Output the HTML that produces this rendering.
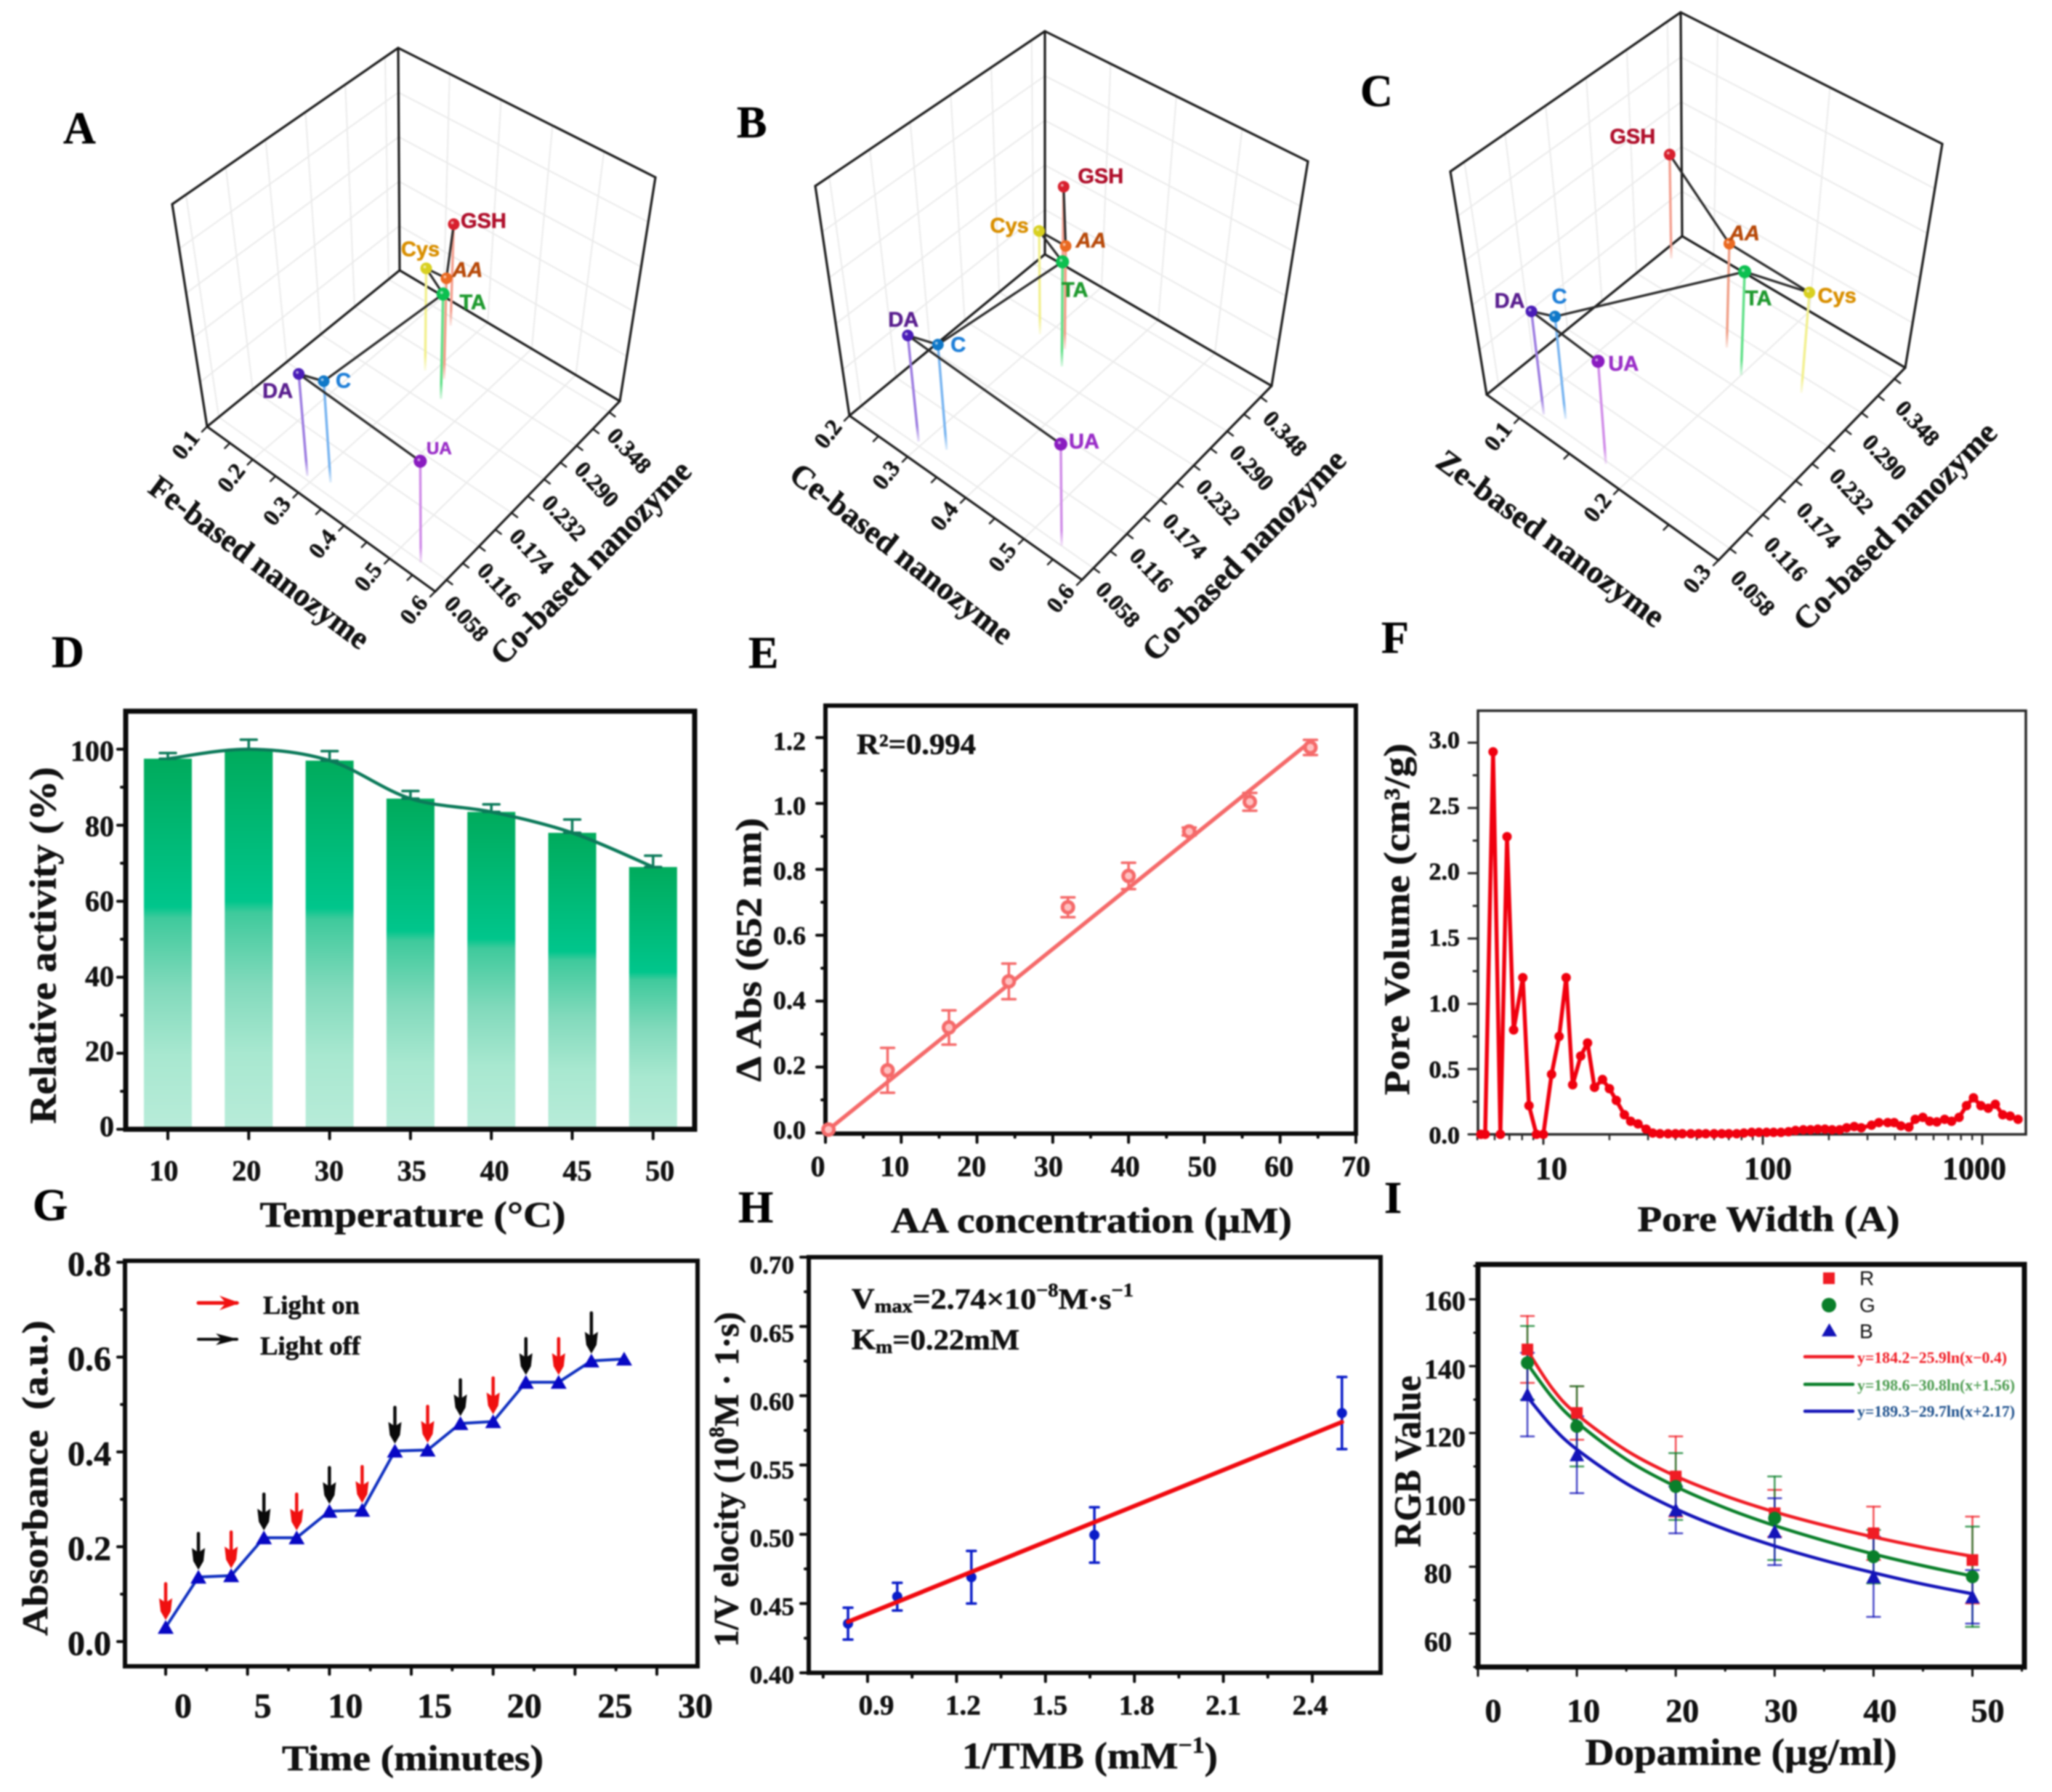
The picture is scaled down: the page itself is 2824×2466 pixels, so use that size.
<!DOCTYPE html>
<html lang="en">
<head>
<meta charset="utf-8">
<title>Nanozyme sensor array figure</title>
<style>
html,body{margin:0;padding:0;background:#fff;width:2824px;height:2466px;overflow:hidden}
svg{display:block;filter:blur(1px)}
text{font-family:"Liberation Serif","DejaVu Serif",serif;font-weight:bold;fill:#111;stroke:#111;stroke-width:.6px;dominant-baseline:central}
text.letter{dominant-baseline:alphabetic;font-size:62px;fill:#000}
text.sans{font-family:"Liberation Sans","DejaVu Sans",sans-serif}
</style>
</head>
<body>
<svg id="figure" xmlns="http://www.w3.org/2000/svg" width="2824" height="2466" viewBox="0 0 2824 2466">
<rect width="2824" height="2466" fill="#fff"/>
<defs id="defs">
<linearGradient id="barFill" x1="0" y1="0" x2="0" y2="1">
<stop offset="0" stop-color="#00ab5c"/><stop offset="0.4" stop-color="#00c68c"/><stop offset="0.43" stop-color="#3fca9c"/><stop offset="0.62" stop-color="#82dabc"/><stop offset="0.8" stop-color="#a8e8d0"/><stop offset="1" stop-color="#b8ecd9"/>
</linearGradient>
</defs>

<text class="letter" x="87" y="197">A</text>
<text class="letter" x="1014" y="189">B</text>
<text class="letter" x="1872" y="146">C</text>
<text class="letter" x="71" y="918">D</text>
<text class="letter" x="1030" y="919">E</text>
<text class="letter" x="1901" y="898">F</text>
<text class="letter" x="45" y="1679">G</text>
<text class="letter" x="1016" y="1682">H</text>
<text class="letter" x="1905" y="1669">I</text>

<text x="357" y="774" font-size="44" text-anchor="middle" textLength="366" lengthAdjust="spacingAndGlyphs" transform="rotate(36.8 357 774)">Fe-based nanozyme</text>
<text x="813" y="774" font-size="44" text-anchor="middle" textLength="373" lengthAdjust="spacingAndGlyphs" transform="rotate(-45.6 813 774)">Co-based nanozyme</text>
<text x="1241" y="762" font-size="44" text-anchor="middle" textLength="376" lengthAdjust="spacingAndGlyphs" transform="rotate(37.9 1241 762)">Ce-based nanozyme</text>
<text x="1712" y="764" font-size="44" text-anchor="middle" textLength="383" lengthAdjust="spacingAndGlyphs" transform="rotate(-46.3 1712 764)">Co-based nanozyme</text>
<text x="2134" y="741" font-size="44" text-anchor="middle" textLength="378" lengthAdjust="spacingAndGlyphs" transform="rotate(36.5 2134 741)">Ze-based nanozyme</text>
<text x="2608" y="724" font-size="44" text-anchor="middle" textLength="380" lengthAdjust="spacingAndGlyphs" transform="rotate(-45.8 2608 724)">Co-based nanozyme</text>

<text x="568" y="1671" font-size="50" text-anchor="middle" textLength="421" lengthAdjust="spacingAndGlyphs">Temperature (°C)</text>
<text x="60" y="1301" font-size="52" text-anchor="middle" textLength="491" lengthAdjust="spacingAndGlyphs" transform="rotate(-90 60 1301)">Relative activity (%)</text>
<text x="1502" y="1679" font-size="50" text-anchor="middle" textLength="552" lengthAdjust="spacingAndGlyphs">AA concentration (µM)</text>
<text x="1030" y="1307" font-size="50" text-anchor="middle" textLength="363" lengthAdjust="spacingAndGlyphs" transform="rotate(-90 1030 1307)">Δ Abs (652 nm)</text>
<text x="1179" y="1024" font-size="40" textLength="164" lengthAdjust="spacingAndGlyphs">R²=0.994</text>
<text x="2434" y="1677" font-size="50" text-anchor="middle" textLength="361" lengthAdjust="spacingAndGlyphs">Pore Width (A)</text>
<text x="1922" y="1265" font-size="50" text-anchor="middle" textLength="484" lengthAdjust="spacingAndGlyphs" transform="rotate(-90 1922 1265)">Pore Volume (cm³/g)</text>
<text x="568" y="2419" font-size="50" text-anchor="middle" textLength="360" lengthAdjust="spacingAndGlyphs">Time (minutes)</text>
<text x="48" y="2034" font-size="50" text-anchor="middle" textLength="434" lengthAdjust="spacingAndGlyphs" transform="rotate(-90 48 2034)">Absorbance&#160; (a.u.)</text>
<text x="362" y="1796" font-size="36" textLength="133" lengthAdjust="spacingAndGlyphs">Light on</text>
<text x="358" y="1852" font-size="36" textLength="138" lengthAdjust="spacingAndGlyphs">Light off</text>
<text x="1500" y="2417" font-size="52" text-anchor="middle" textLength="352" lengthAdjust="spacingAndGlyphs">1/TMB (mM<tspan dy="-16" font-size="32">−1</tspan><tspan dy="16">)</tspan></text>
<text x="1000" y="2036" font-size="48" text-anchor="middle" textLength="461" lengthAdjust="spacingAndGlyphs" transform="rotate(-90 1000 2036)">1/V elocity (10<tspan dy="-14" font-size="30">8</tspan><tspan dy="14">M · 1·s)</tspan></text>
<text x="1172" y="1787" font-size="40" textLength="388" lengthAdjust="spacingAndGlyphs">V<tspan dy="10" font-size="26">max</tspan><tspan dy="-10">=2.74×10</tspan><tspan dy="-12" font-size="26">−8</tspan><tspan dy="12">M·s</tspan><tspan dy="-12" font-size="26">−1</tspan></text>
<text x="1172" y="1843" font-size="40" textLength="231" lengthAdjust="spacingAndGlyphs">K<tspan dy="10" font-size="26">m</tspan><tspan dy="-10">=0.22mM</tspan></text>
<text x="2396" y="2412" font-size="52" text-anchor="middle" textLength="429" lengthAdjust="spacingAndGlyphs">Dopamine (µg/ml)</text>
<text x="1938" y="2011" font-size="52" text-anchor="middle" textLength="236" lengthAdjust="spacingAndGlyphs" transform="rotate(-90 1938 2011)">RGB Value</text>
<text class="sans" x="2559" y="1759" font-size="28" style="font-weight:normal;stroke:none">R</text>
<text class="sans" x="2559" y="1796" font-size="28" style="font-weight:normal;stroke:none">G</text>
<text class="sans" x="2559" y="1832" font-size="28" style="font-weight:normal;stroke:none">B</text>
<text x="2556" y="1868" font-size="22" textLength="206" lengthAdjust="spacingAndGlyphs" style="fill:#f01c24;stroke:none">y=184.2−25.9ln(x−0.4)</text>
<text x="2556" y="1906" font-size="22" textLength="217" lengthAdjust="spacingAndGlyphs" style="fill:#4c9c50;stroke:none">y=198.6−30.8ln(x+1.56)</text>
<text x="2556" y="1942" font-size="22" textLength="217" lengthAdjust="spacingAndGlyphs" style="fill:#1c4f8c;stroke:none">y=189.3−29.7ln(x+2.17)</text>
<g id="marks"></g>
</svg>

<script>
/* ---------- 3D scatter data (panels A, B, C) ---------- */
const compounds = ['GSH','Cys','AA','TA','DA','C','UA'];
const feValues = [0.2545,0.288,0.3255,0.350,0.2885,0.326,0.545];
const coValuesA = [0.3374,0.2676,0.2713,0.2469,0.0628,0.0735,0.0569];
const heightA = [0.456,0.459,0.453,0.471,0.459,0.456,0.456];
const ceValues = [0.266,0.292,0.335,0.352,0.294,0.330,0.545];
const coValuesB = [0.3334,0.2703,0.2706,0.2492,0.0627,0.0748,0.0582];
const heightB = [0.475,0.459,0.459,0.465,0.465,0.462,0.450];
const zeValues = [0.077,0.249,0.173,0.200,0.111,0.126,0.177];
const coValuesC = [0.3325,0.2709,0.2693,0.2489,0.0607,0.0725,0.0548];
const heightC = [0.465,0.449,0.465,0.462,0.462,0.459,0.459];
const coTicks = [0.058,0.116,0.174,0.232,0.290,0.348];
const feTicks = [0.1,0.2,0.3,0.4,0.5,0.6];
const ceTicks = [0.2,0.3,0.4,0.5,0.6];
const zeTicks = [0.1,0.2,0.3];

/* ---------- Panel D ---------- */
const tempLabels = ['10','20','30','35','40','45','50'];
const activity = [97.5,100,97,87,83.5,78,69];
const activityErr = [1.5,2.5,2.5,2,2,3.5,3];
const activityTicks = [0,20,40,60,80,100];

/* ---------- Panel E ---------- */
const aaConc = [0.4,8.2,16.3,24.2,32,40,48,56,64];
const aaAbs = [0.01,0.19,0.32,0.46,0.685,0.78,0.915,1.005,1.17];
const aaErr = [0.01,0.068,0.052,0.054,0.03,0.04,0.012,0.027,0.023];
const aaFitX = [0.4,64];
const aaFitY = [0.01,1.188];
const aaYTicks = [0,0.2,0.4,0.6,0.8,1.0,1.2];
const aaXTicks = [0,10,20,30,40,50,60,70];

/* ---------- Panel F ---------- */
const poreWidth = [5.19,5.43,5.9,6.37,6.83,7.32,8.06,8.6,9.3,10,10.9,11.8,12.7,13.6,14.8,15.9,17.1,18.6,20,21.5,23.4,25,27,29.4,31.5,34,37,40,43,47,51,55,60,65,70,76,82,89,96,104,112,121,131,141,153,165,178,192,207,224,241,261,281,313,338,371,397,426,463,495,536,576,621,674,725,784,848,912,986,1065,1147,1240,1340,1456];
const poreVolume = [0,0,2.93,0,2.28,0.8,1.2,0.22,0,0,0.46,0.75,1.2,0.38,0.6,0.7,0.36,0.42,0.35,0.26,0.15,0.1,0.08,0.04,0.01,0.005,0.005,0.005,0.005,0.005,0.005,0.005,0.005,0.005,0.005,0.005,0.01,0.015,0.015,0.015,0.015,0.015,0.02,0.03,0.035,0.035,0.04,0.04,0.035,0.035,0.05,0.06,0.05,0.07,0.09,0.09,0.09,0.065,0.055,0.115,0.13,0.1,0.095,0.115,0.1,0.13,0.22,0.28,0.22,0.2,0.23,0.15,0.14,0.115];
const poreYTicks = [0,0.5,1.0,1.5,2.0,2.5,3.0];
const poreXTicks = [10,100,1000];

/* ---------- Panel G ---------- */
const gTime = [0,2,4,6,8,10,12,14,16,18,20,22,24,26,28];
const gAbsorbance = [0.03,0.136,0.139,0.219,0.219,0.275,0.277,0.402,0.404,0.46,0.464,0.547,0.547,0.592,0.596];
const gLightState = ['on','off','on','off','on','off','on','off','on','off','on','off','on','off'];
const gYTicks = [0,0.2,0.4,0.6,0.8];
const gXTicks = [0,5,10,15,20,25,30];

/* ---------- Panel H ---------- */
const tmbInverse = [0.834,1.0,1.25,1.665,2.5];
const vInverse = [0.4355,0.455,0.469,0.4995,0.5875];
const vErr = [0.0115,0.01,0.019,0.02,0.026];
const hFitX = [0.834,2.5];
const hFitY = [0.4368,0.581];
const hYTicks = [0.40,0.45,0.50,0.55,0.60,0.65,0.70];
const hXTicks = [0.9,1.2,1.5,1.8,2.1,2.4];

/* ---------- Panel I ---------- */
const dopamine = [5,10,20,30,40,50];
const rValues = [145,126,107,96,90,82];
const gValues = [141,122,104,94.5,83,77];
const bValues = [131.5,113.5,97,90.5,77,71];
const rErr = [10,8,12,7,8,13];
const gErr = [11,12,10,12.5,8,15];
const bErr = [12.5,11.5,7,10,12,8];
const curveX = [5,7.5,10,15,20,25,30,35,40,45,50];
const rCurve = [144.7,133.4,125.6,114.8,107.1,101.2,96.4,92.4,88.9,85.8,83.1];
const gCurve = [140.7,130.7,123.2,112.1,104,97.6,92.3,87.8,83.8,80.3,77.2];
const bCurve = [130.8,121.9,115.1,104.9,97.3,91.2,86.2,81.9,78.2,74.8,71.9];
const iYTicks = [60,80,100,120,140,160];
const iXTicks = [0,10,20,30,40,50];

/* ---------- helpers ---------- */
const NS = 'http://www.w3.org/2000/svg';
const marks = document.getElementById('marks');
const defs = document.getElementById('defs');
function make(tag, parent, name) {
  const e = document.createElementNS(NS, tag);
  
  
  parent.appendChild(e);
  return e;
}
function set(e, a) { for (const k in a) e.setAttribute(k, a[k]); return e; }
function group(name) { return make('g', marks, name); }
function line(p, name, x1, y1, x2, y2, stroke, w, opacity) {
  return set(make('line', p, name), {x1, y1, x2, y2, stroke, 'stroke-width': w, 'stroke-linecap': 'round', opacity: opacity === undefined ? 1 : opacity});
}
function label(p, name, str, x, y, size, anchor, extra) {
  const t = make('text', p, name);
  set(t, {x, y, 'font-size': size, 'text-anchor': anchor || 'middle'});
  if (extra) set(t, extra);
  t.textContent = str;
  return t;
}
function linear(d0, d1, r0, r1) { return v => r0 + (v - d0) * (r1 - r0) / (d1 - d0); }
function frame(p, name, x0, y0, x1, y1, w, color) {
  return set(make('rect', p, name), {x: x0, y: y0, width: x1 - x0, height: y1 - y0, fill: 'none', stroke: color || '#0a0a0a', 'stroke-width': w});
}
function smooth(pts) {
  let d = 'M' + pts[0][0] + ' ' + pts[0][1];
  for (let i = 0; i < pts.length - 1; i++) {
    const a = pts[Math.max(i - 1, 0)], b = pts[i], c = pts[i + 1], e = pts[Math.min(i + 2, pts.length - 1)];
    d += ' C' + (b[0] + (c[0] - a[0]) / 6) + ' ' + (b[1] + (c[1] - a[1]) / 6) + ' ' + (c[0] - (e[0] - b[0]) / 6) + ' ' + (c[1] - (e[1] - b[1]) / 6) + ' ' + c[0] + ' ' + c[1];
  }
  return d;
}
function errorBar(p, name, x, yTop, yBot, cap, color, w, opacity) {
  line(p, name, x, yTop, x, yBot, color, w, opacity);
  line(p, name + '-cap-top', x - cap, yTop, x + cap, yTop, color, w, opacity);
  line(p, name + '-cap-bottom', x - cap, yBot, x + cap, yBot, color, w, opacity);
}

/* ---------- 3D panels ---------- */
const pointColors = ['#d8202e','#d8d020','#ea6a22','#0cc050','#4a1cb8','#1078c8','#8a1cc0'];
const labelColors = ['#b0102c','#d98f00','#b84a0a','#1f9a2f','#5a1f8f','#1f7fd8','#9a2fc8'];
const stemColors = ['#f4a090','#f2f090','#f0a088','#60e088','#9c7ce0','#78b4f0','#d08ce8'];
const chainOrder = [0,2,1,3,5,4,6];

function scatter3d(cfg) {
  const g = group(cfg.id + '-3d-scatter');
  const bil = (c, u, v) => [0, 1].map(i => (1-u)*(1-v)*c.L[i] + u*(1-v)*c.F[i] + (1-u)*v*c.B[i] + u*v*c.R[i]);
  const P = (u, v, z) => { const a = bil(cfg.floor, u, v), b = bil(cfg.ceil, u, v); return [a[0] + (b[0]-a[0])*z, a[1] + (b[1]-a[1])*z]; };
  const U = linear(cfg.xRange[0], cfg.xRange[1], 0, 1);
  const V = linear(0.038, 0.367, 0, 1);
  const seg = (name, p, q, stroke, w) => line(g, name, p[0], p[1], q[0], q[1], stroke, w);
  const GRID = '#ebebeb';
  [0.2,0.4,0.6,0.8].forEach(z => {
    seg('grid-left-wall', P(0,0,z), P(0,1,z), GRID, 2);
    seg('grid-right-wall', P(0,1,z), P(1,1,z), GRID, 2);
  });
  coTicks.forEach(c => {
    seg('grid-left-wall-vertical', P(0,V(c),0), P(0,V(c),1), GRID, 2);
    seg('grid-floor-co', P(0,V(c),0), P(1,V(c),0), GRID, 2);
  });
  cfg.xTicks.forEach(t => {
    seg('grid-right-wall-vertical', P(U(t),1,0), P(U(t),1,1), GRID, 2);
    seg('grid-floor-x', P(U(t),0,0), P(U(t),1,0), GRID, 2);
  });
  const EDGE = '#1c1c1c';
  seg('box-edge', P(0,1,0), P(0,1,1), EDGE, 3.2);
  seg('box-edge', P(0,1,1), P(0,0,1), EDGE, 3.2);
  seg('box-edge', P(0,0,1), P(0,0,0), EDGE, 3.2);
  seg('box-edge', P(0,1,1), P(1,1,1), EDGE, 3.2);
  seg('box-edge', P(1,1,1), P(1,1,0), EDGE, 3.2);
  seg('box-edge', P(0,0,0), P(0,1,0), EDGE, 3.2);
  seg('box-edge', P(0,1,0), P(1,1,0), EDGE, 3.2);
  seg('box-edge', P(0,0,0), P(1,0,0), EDGE, 3.2);
  seg('box-edge', P(1,0,0), P(1,1,0), EDGE, 3.2);
  const xStep = 0.05;
  for (let t = Math.ceil(cfg.xRange[0] / xStep) * xStep; t <= cfg.xRange[1] + 1e-6; t += xStep) {
    const a = P(U(t),0,0);
    line(g, 'x-tick', a[0], a[1], a[0] - 7, a[1] + 7, EDGE, 2.5);
  }
  for (let i = 0; i < 11; i++) {
    const c = 0.058 + i * 0.029, a = P(1,V(c),0);
    line(g, 'co-tick', a[0], a[1], a[0] + 8, a[1] + 6, EDGE, 2.5);
  }
  cfg.xTicks.forEach(t => {
    const a = P(U(t),0,0), x = a[0] + cfg.xOff[0], y = a[1] + cfg.xOff[1];
    label(g, 'x-tick-label', t.toFixed(1), x, y, 32, 'middle', {transform: 'rotate(-52 ' + x + ' ' + y + ')'});
  });
  coTicks.forEach(t => {
    const a = P(1,V(t),0), x = a[0] + cfg.coOff[0], y = a[1] + cfg.coOff[1];
    label(g, 'co-tick-label', t.toFixed(3), x, y, 32, 'middle', {transform: 'rotate(47 ' + x + ' ' + y + ')'});
  });
  const pts = compounds.map((c, i) => P(U(cfg.xValues[i]), V(cfg.coValues[i]), cfg.heights[i]));
  compounds.forEach((c, i) => {
    const b = P(U(cfg.xValues[i]), V(cfg.coValues[i]), 0), t = pts[i];
    const id = cfg.id + 'stem' + i;
    const grad = make('linearGradient', defs, 'stem-fade');
    set(grad, {id, gradientUnits: 'userSpaceOnUse', x1: t[0], y1: t[1], x2: b[0], y2: b[1]});
    set(make('stop', grad, 'stem-fade-start'), {offset: 0, 'stop-color': stemColors[i]});
    set(make('stop', grad, 'stem-fade-mid'), {offset: 0.85, 'stop-color': stemColors[i]});
    set(make('stop', grad, 'stem-fade-end'), {offset: 1, 'stop-color': stemColors[i], 'stop-opacity': 0.2});
    set(make('line', g, 'stem-' + c), {x1: t[0], y1: t[1], x2: b[0], y2: b[1], stroke: 'url(#' + id + ')', 'stroke-width': 3.5});
  });
  for (let i = 0; i < chainOrder.length - 1; i++) {
    const a = pts[chainOrder[i]], b = pts[chainOrder[i + 1]];
    line(g, 'chain-link', a[0], a[1], b[0], b[1], '#2a2a2a', 3.2);
  }
  compounds.forEach((c, i) => {
    set(make('circle', g, 'point-' + c), {cx: pts[i][0], cy: pts[i][1], r: i === 3 || i === 6 ? 9 : 8, fill: pointColors[i]});
    set(make('circle', g, 'point-highlight-' + c), {cx: pts[i][0] - 2, cy: pts[i][1] - 2, r: 2, fill: '#fff', opacity: 0.55});
    const o = cfg.labelOffsets[i];
    const t = label(g, 'label-' + c, c, pts[i][0] + o[0], pts[i][1] + o[1], i === 6 && cfg.id === 'a' ? 24 : 29, 'middle', {class: 'sans'});
    t.style.fill = labelColors[i];
    t.style.stroke = labelColors[i];
    if (c === 'AA') t.style.fontStyle = 'italic';
  });
}
scatter3d({id:'a', xRange:[0.1,0.6], xTicks:feTicks, xValues:feValues, coValues:coValuesA, heights:heightA,
  floor:{L:[285,587],F:[599,814],B:[550,372],R:[853,552]}, ceil:{L:[237,281],F:[600,508],B:[548,66],R:[902,244]},
  xOff:[-30,25], coOff:[28,53],
  labelOffsets:[[41,-4],[-8,-26],[29,-11],[41,12],[-29,24],[27,0],[26,-17]]});
scatter3d({id:'b', xRange:[0.2,0.6], xTicks:ceTicks, xValues:ceValues, coValues:coValuesB, heights:heightB,
  floor:{L:[1169,572],F:[1489,798],B:[1438,350],R:[1750,531]}, ceil:{L:[1122,256],F:[1490,488],B:[1438,43],R:[1800,222]},
  xOff:[-30,25], coOff:[34,50],
  labelOffsets:[[51,-14],[-41,-7],[35,-7],[17,39],[-6,-21],[28,1],[32,-3]]});
scatter3d({id:'c', xRange:[0.067,0.3], xTicks:zeTicks, xValues:zeValues, coValues:coValuesC, heights:heightC,
  floor:{L:[2046,543],F:[2365,771],B:[2315,325],R:[2622,506]}, ceil:{L:[1996,236],F:[2366,463],B:[2313,17],R:[2673,198]},
  xOff:[-30,25], coOff:[32,61],
  labelOffsets:[[-51,-24],[38,5],[21,-14],[19,37],[-30,-14],[6,-27],[35,4]]});

/* ---------- Panel D ---------- */
(function () {
  const g = group('d-relative-activity-chart');
  const y = linear(0, 100, 1554, 1031);
  const x = i => 231 + i * 111.3;
  const topV = y(110);
  activity.forEach((v, i) => {
    set(make('rect', g, 'bar-' + tempLabels[i]), {x: x(i) - 33, y: y(v), width: 66, height: y(0) - y(v), fill: 'url(#barFill)'});
  });
  activity.forEach((v, i) => {
    errorBar(g, 'error-bar-' + tempLabels[i], x(i), y(v + activityErr[i]), y(v), 11, '#0c7a5a', 3.5);
  });
  const path = make('path', g, 'activity-line');
  set(path, {d: smooth(activity.map((v, i) => [x(i), y(v)])), fill: 'none', stroke: '#0c7a5a', 'stroke-width': 4.5});
  frame(g, 'd-plot-frame', 173, topV, 956, 1554, 7);
  for (let v = 0; v <= 100; v += 10) {
    line(g, 'y-tick', 173, y(v), v % 20 ? 167 : 162, y(v), '#0a0a0a', 4);
  }
  activityTicks.forEach(v => label(g, 'y-tick-label', String(v), 157, 1550 - v * 5.165, 40, 'end'));
  tempLabels.forEach((t, i) => {
    line(g, 'x-tick', x(i), 1554, x(i), 1567, '#0a0a0a', 4);
    label(g, 'x-tick-label', t, 453 + (i - 2) * 113.8, 1611, 40);
  });
})();

/* ---------- Panel E ---------- */
(function () {
  const g = group('e-aa-calibration-chart');
  const y = linear(0, 1.2, 1559, 1015), x = linear(0, 70, 1136, 1866);
  const C = '#f56a6a';
  frame(g, 'e-plot-frame', 1136, 971, 1866, 1560, 6);
  for (let v = 0; v <= 1.21; v += 0.1) {
    line(g, 'y-tick', 1136, y(v), Math.round(v * 10) % 2 ? 1131 : 1124, y(v), '#0a0a0a', 4);
  }
  aaYTicks.forEach(v => label(g, 'y-tick-label', v.toFixed(1), 1109, 1555 - v * 445.8, 36, 'end'));
  for (let v = 0; v <= 70; v += 5) {
    line(g, 'x-tick', x(v), 1560, x(v), v % 10 ? 1565 : 1572, '#0a0a0a', 4);
  }
  aaXTicks.forEach(v => label(g, 'x-tick-label', String(v), 1125.5 + v * 10.58, 1605, 40));
  line(g, 'fit-line', x(aaFitX[0]), y(aaFitY[0]), x(aaFitX[1]), y(aaFitY[1]), C, 5.5);
  aaConc.forEach((c, i) => {
    if (i > 0) errorBar(g, 'error-bar', x(c), y(aaAbs[i] + aaErr[i]), y(aaAbs[i] - aaErr[i]), 9, C, 3.5);
    set(make('circle', g, 'data-point'), {cx: x(c), cy: y(aaAbs[i]), r: 7.5, fill: '#ffc0c0', stroke: C, 'stroke-width': 5});
  });
})();

/* ---------- Panel F ---------- */
(function () {
  const g = group('f-pore-distribution-chart');
  const y = linear(0, 3, 1561, 1022);
  const x = w => 2124 + 302 * Math.log10(w / 10);
  frame(g, 'f-plot-frame', 2034, 978, 2788, 1561, 3.5, '#2a2a2a');
  for (let v = 0; v <= 3.01; v += 0.25) {
    line(g, 'y-tick', 2034, y(v), Math.round(v * 4) % 2 ? 2028 : 2021, y(v), '#2a2a2a', 3);
  }
  poreYTicks.forEach(v => label(g, 'y-tick-label', v.toFixed(1), 2009, 1563 - v * 181.4, 34, 'end'));
  [5,6,7,8,9,20,30,40,50,60,70,80,90,200,300,400,500,600,700,800,900].forEach(w => {
    line(g, 'x-minor-tick', x(w), 1561, x(w), 1568, '#2a2a2a', 2.5);
  });
  const shift = {10: 11, 100: 7, 1000: -11};
  poreXTicks.forEach(w => {
    line(g, 'x-tick', x(w), 1561, x(w), 1574, '#2a2a2a', 3);
    label(g, 'x-tick-label', String(w), x(w) + shift[w], 1608, 44);
  });
  const pts = poreWidth.map((w, i) => x(w) + ' ' + y(poreVolume[i]));
  set(make('path', g, 'pore-volume-line'), {d: 'M' + pts.join(' L'), fill: 'none', stroke: '#f0000f', 'stroke-width': 5.5, 'stroke-linejoin': 'round'});
  poreWidth.forEach((w, i) => {
    set(make('circle', g, 'pore-volume-point'), {cx: x(w), cy: y(poreVolume[i]), r: 6.5, fill: '#f0000f'});
  });
})();

/* ---------- Panel G ---------- */
(function () {
  const g = group('g-absorbance-chart');
  const y = linear(0, 0.8, 2259, 1737), x = linear(0, 30, 228, 904);
  frame(g, 'g-plot-frame', 172, 1735, 960, 2293, 6);
  for (let v = 0; v <= 0.81; v += 0.1) {
    line(g, 'y-tick', 172, y(v), Math.round(v * 10) % 2 ? 167 : 162, y(v), '#0a0a0a', 4);
  }
  gYTicks.forEach(v => label(g, 'y-tick-label', v.toFixed(1), 153, y(v) + 3, 48, 'end'));
  const shift = [24,21,22,32,43,55,53];
  for (let v = 0; v <= 30; v += 2.5) {
    line(g, 'x-tick', x(v), 2293, x(v), v % 5 ? 2298 : 2304, '#0a0a0a', 4);
  }
  gXTicks.forEach((v, i) => label(g, 'x-tick-label', String(v), x(v) + shift[i], 2348, 48));
  const pts = gTime.map((t, i) => x(t) + ' ' + y(gAbsorbance[i]));
  set(make('path', g, 'absorbance-line'), {d: 'M' + pts.join(' L'), fill: 'none', stroke: '#1030c0', 'stroke-width': 4});
  gTime.forEach((t, i) => {
    const cx = x(t), cy = y(gAbsorbance[i]);
    set(make('polygon', g, 'absorbance-point'), {points: (cx - 11) + ',' + (cy + 9) + ' ' + (cx + 11) + ',' + (cy + 9) + ' ' + cx + ',' + (cy - 10), fill: '#0808c4'});
  });
  gLightState.forEach((s, i) => {
    const cx = x(gTime[i]), tip = y(gAbsorbance[i]) - 10, color = s === 'on' ? '#f01010' : '#0a0a0a';
    const top = tip - (i === 13 ? 56 : 50);
    line(g, 'arrow-shaft-' + s, cx, top, cx, tip - 16, color, 4.5);
    set(make('polygon', g, 'arrow-head-' + s), {points: (cx - 9) + ',' + (tip - 30) + ' ' + cx + ',' + (tip - 24) + ' ' + (cx + 9) + ',' + (tip - 30) + ' ' + (cx + 7) + ',' + (tip - 12) + ' ' + cx + ',' + tip + ' ' + (cx - 7) + ',' + (tip - 12), fill: color});
  });
  line(g, 'legend-arrow-on-shaft', 273, 1793, 326, 1793, '#f01010', 5);
  set(make('polygon', g, 'legend-arrow-on-head'), {points: '302,1783 311,1793 302,1803 330,1793', fill: '#f01010'});
  line(g, 'legend-arrow-off-shaft', 273, 1843, 326, 1843, '#0a0a0a', 4);
  set(make('polygon', g, 'legend-arrow-off-head'), {points: '297,1835 305,1843 297,1851 328,1843', fill: '#0a0a0a'});
})();

/* ---------- Panel H ---------- */
(function () {
  const g = group('h-lineweaver-burk-chart');
  const y = linear(0.40, 0.70, 2302, 1730), x = linear(0.9, 2.4, 1194, 1806);
  const B = '#0a1cc8';
  frame(g, 'h-plot-frame', 1113, 1730, 1900, 2302, 6);
  for (let i = 0; i <= 12; i++) {
    const v = 0.40 + i * 0.025;
    line(g, 'y-tick', 1113, y(v), i % 2 ? 1108 : 1102, y(v), '#0a0a0a', 4);
  }
  hYTicks.forEach((v, i) => label(g, 'y-tick-label', v.toFixed(2), 1093, y(v) + 3 + i * 1.33, 35, 'end'));
  for (let i = 0; i <= 11; i++) {
    const v = 0.75 + i * 0.15;
    line(g, 'x-tick', x(v), 2302, x(v), i % 2 ? 2314 : 2308, '#0a0a0a', 4);
  }
  hXTicks.forEach(v => label(g, 'x-tick-label', v.toFixed(1), x(v) + 12 - (v - 0.9) * 10, 2347, 39));
  tmbInverse.forEach((t, i) => {
    errorBar(g, 'error-bar', x(t), y(vInverse[i] + vErr[i]), y(vInverse[i] - vErr[i]), 6, B, 3.5);
    set(make('circle', g, 'data-point'), {cx: x(t), cy: y(vInverse[i]), r: 7, fill: B});
  });
  line(g, 'fit-line', x(hFitX[0]), y(hFitY[0]), x(hFitX[1]), y(hFitY[1]), '#f00a10', 6);
})();

/* ---------- Panel I ---------- */
(function () {
  const g = group('i-rgb-dopamine-chart');
  const y = linear(60, 160, 2248, 1788), x = linear(0, 50, 2034, 2714.5);
  const series = [
    {n: 'r', v: rValues, e: rErr, c: rCurve, col: '#f01c24'},
    {n: 'g', v: gValues, e: gErr, c: gCurve, col: '#0a7f2a'},
    {n: 'b', v: bValues, e: bErr, c: bCurve, col: '#1414b8'}
  ];
  frame(g, 'i-plot-frame', 2034, 1740, 2786, 2294, 7);
  for (let v = 50; v <= 170; v += 10) {
    line(g, 'y-tick', 2034, y(v), v % 20 ? 2029 : 2023, y(v), '#0a0a0a', 3);
  }
  iYTicks.forEach((v, i) => label(g, 'y-tick-label', String(v), 1960, y(v) + 12 - i * 1.8, 38, 'start'));
  for (let v = 0; v <= 55; v += 5) {
    line(g, 'x-tick', x(v), 2294, x(v), v % 10 ? 2299 : 2306, '#0a0a0a', 3);
  }
  const shift = [21,9,9,9,9,21];
  iXTicks.forEach((v, i) => label(g, 'x-tick-label', String(v), x(v) + shift[i], 2354, 46));
  series.forEach(s => {
    dopamine.forEach((d, i) => errorBar(g, 'error-bar-' + s.n, x(d), y(s.v[i] + s.e[i]), y(s.v[i] - s.e[i]), 9, s.col, 2.5, 0.78));
  });
  series.forEach(s => {
    set(make('path', g, 'fit-curve-' + s.n), {d: smooth(curveX.map((d, i) => [x(d), y(s.c[i])])), fill: 'none', stroke: s.col, 'stroke-width': 4.5});
  });
  dopamine.forEach((d, i) => {
    set(make('rect', g, 'point-r'), {x: x(d) - 8, y: y(rValues[i]) - 8, width: 16, height: 16, fill: '#f01c24'});
  });
  dopamine.forEach((d, i) => {
    set(make('circle', g, 'point-g'), {cx: x(d), cy: y(gValues[i]), r: 9, fill: '#0a7f2a'});
  });
  dopamine.forEach((d, i) => {
    const cx = x(d), cy = y(bValues[i]);
    set(make('polygon', g, 'point-b'), {points: (cx - 10) + ',' + (cy + 9) + ' ' + (cx + 10) + ',' + (cy + 9) + ' ' + cx + ',' + (cy - 10), fill: '#1414b8'});
  });
  set(make('rect', g, 'legend-marker-r'), {x: 2509, y: 1751, width: 16, height: 16, fill: '#f01c24'});
  set(make('circle', g, 'legend-marker-g'), {cx: 2517, cy: 1796, r: 10, fill: '#0a7f2a'});
  set(make('polygon', g, 'legend-marker-b'), {points: '2507,1839 2528,1839 2517.5,1821', fill: '#1414b8'});
  line(g, 'legend-line-r', 2484, 1867, 2550, 1867, '#f01c24', 4.5);
  line(g, 'legend-line-g', 2484, 1905, 2550, 1905, '#0a7f2a', 4.5);
  line(g, 'legend-line-b', 2484, 1942, 2550, 1942, '#1414b8', 4.5);
})();
</script>
</body>
</html>
